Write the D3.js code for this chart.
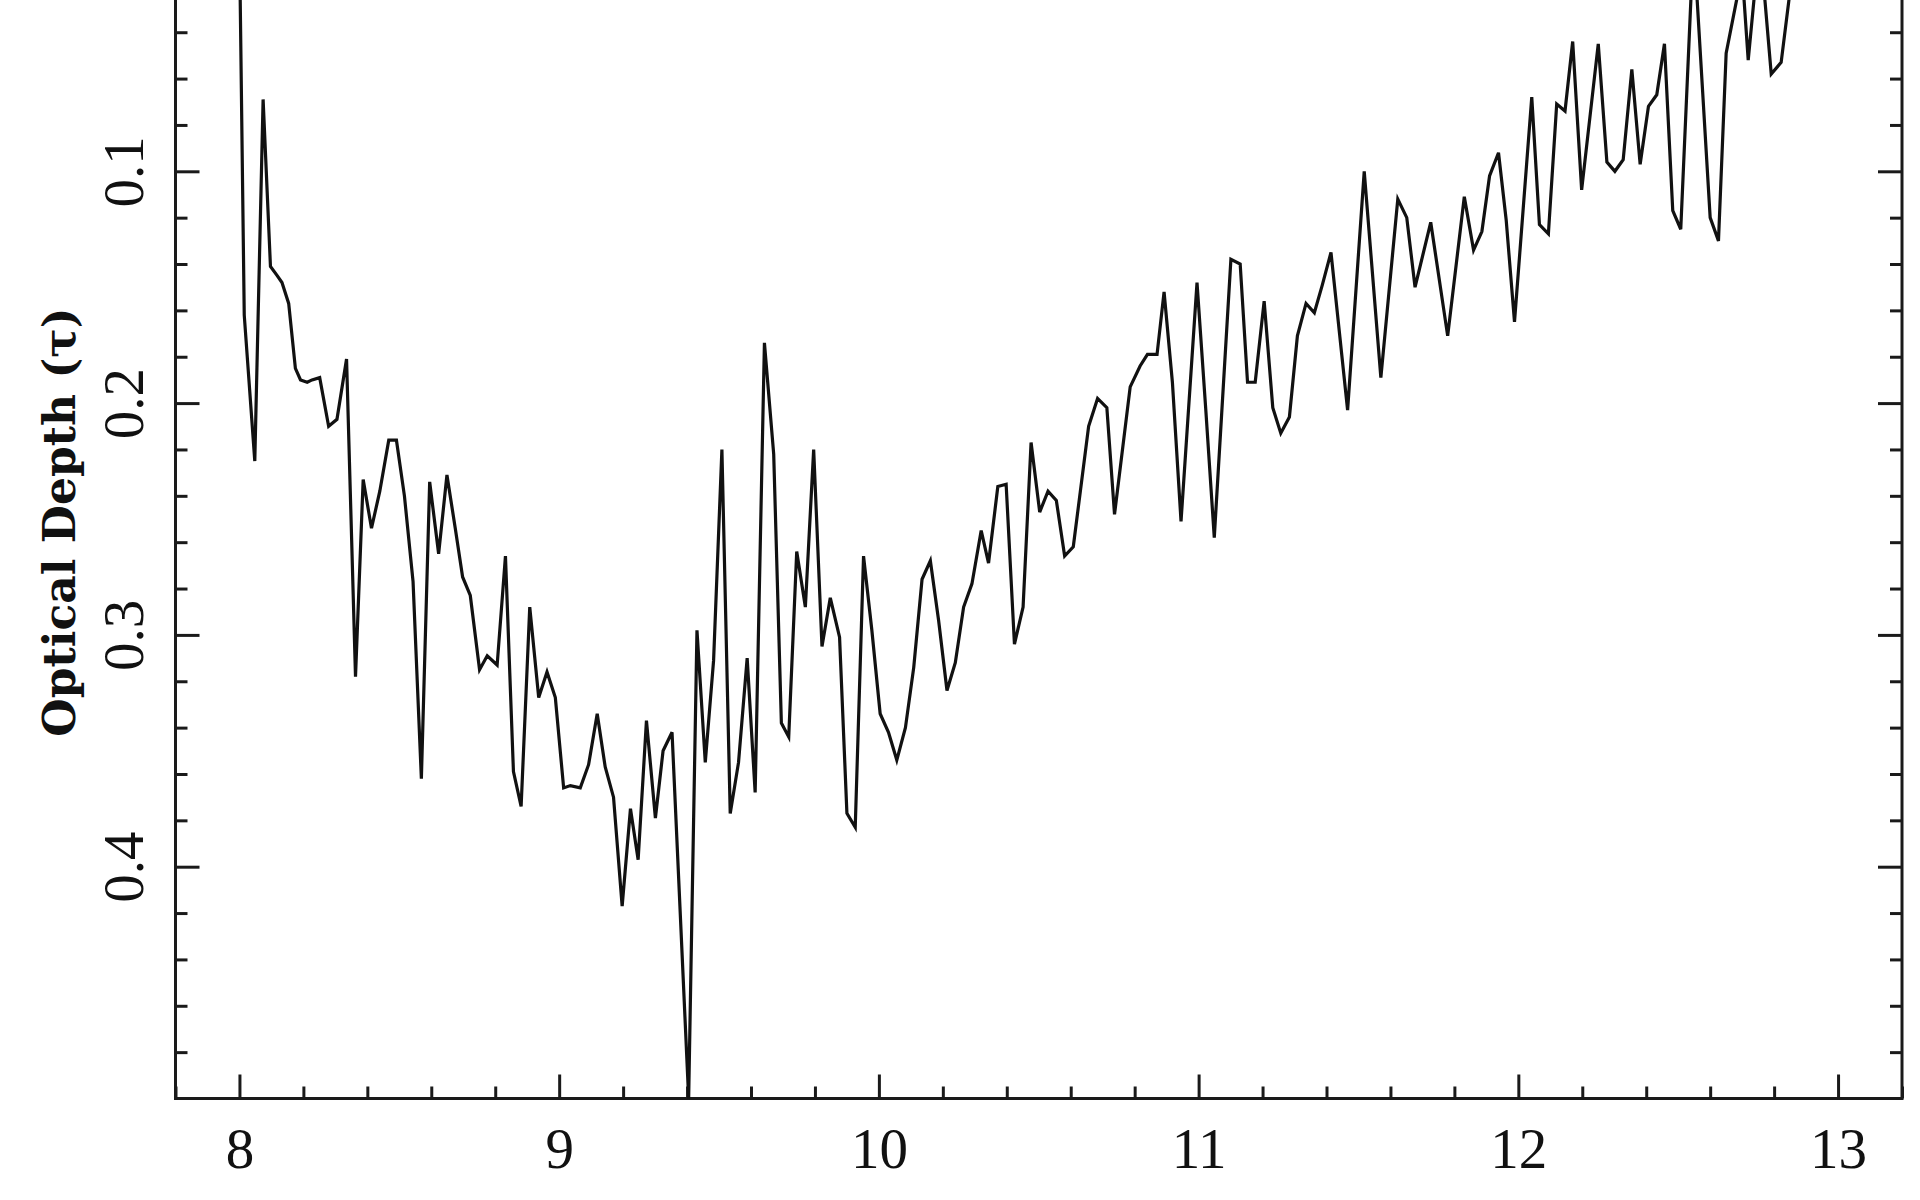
<!DOCTYPE html>
<html>
<head>
<meta charset="utf-8">
<script src="https://cdn.jsdelivr.net/npm/d3@7"></script>
<style>
  body { margin: 0; background: #fff; }
  svg { display: block; }
  .tick text { font-family: "Liberation Serif", serif; font-size: 57px; fill: #111; }
  .tick line { stroke: #1a1a1a; stroke-width: 3; }
</style>
</head>
<body>
<script>
// wavelength (x) and optical depth (y)
const wavelength = [
  8.000, 8.015, 8.048, 8.074, 8.097, 8.118, 8.133, 8.154, 8.175, 8.191,
  8.212, 8.227, 8.251, 8.279, 8.305, 8.335, 8.363, 8.387, 8.413, 8.439,
  8.467, 8.491, 8.516, 8.543, 8.569, 8.595, 8.623, 8.649, 8.675, 8.698,
  8.722, 8.751, 8.775, 8.806, 8.832, 8.857, 8.881, 8.908, 8.936, 8.962,
  8.988, 9.014, 9.035, 9.066, 9.092, 9.119, 9.144, 9.170, 9.197, 9.223,
  9.247, 9.273, 9.301, 9.325, 9.353, 9.405, 9.431, 9.457, 9.483, 9.509,
  9.535, 9.561, 9.588, 9.613, 9.642, 9.671, 9.695, 9.718, 9.743, 9.770,
  9.796, 9.822, 9.848, 9.877, 9.900, 9.926, 9.952, 9.978, 10.004, 10.030,
  10.056, 10.083, 10.109, 10.135, 10.161, 10.187, 10.213, 10.239, 10.265, 10.291,
  10.320, 10.343, 10.372, 10.398, 10.424, 10.451, 10.476, 10.503, 10.529, 10.555,
  10.581, 10.608, 10.656, 10.684, 10.713, 10.737, 10.786, 10.817, 10.840, 10.870,
  10.892, 10.918, 10.945, 10.995, 11.023, 11.049, 11.101, 11.130, 11.153, 11.177,
  11.205, 11.232, 11.257, 11.284, 11.309, 11.336, 11.362, 11.387, 11.414, 11.466,
  11.518, 11.570, 11.623, 11.651, 11.677, 11.726, 11.779, 11.831, 11.860, 11.886,
  11.910, 11.938, 11.962, 11.988, 12.042, 12.066, 12.094, 12.120, 12.146, 12.170,
  12.198, 12.250, 12.277, 12.302, 12.328, 12.355, 12.381, 12.407, 12.433, 12.457,
  12.483, 12.508, 12.548, 12.600, 12.626, 12.650, 12.700, 12.719, 12.755, 12.791,
  12.822, 12.870
];
const depth = [
  0.000, 0.162, 0.225, 0.069, 0.141, 0.145, 0.148, 0.157, 0.185, 0.190,
  0.191, 0.190, 0.189, 0.210, 0.207, 0.181, 0.318, 0.233, 0.254, 0.238,
  0.216, 0.216, 0.240, 0.277, 0.362, 0.234, 0.265, 0.231, 0.254, 0.275,
  0.283, 0.315, 0.309, 0.313, 0.266, 0.359, 0.374, 0.288, 0.327, 0.316,
  0.327, 0.366, 0.365, 0.366, 0.356, 0.334, 0.357, 0.370, 0.417, 0.375,
  0.397, 0.337, 0.379, 0.350, 0.342, 0.500, 0.298, 0.355, 0.311, 0.220,
  0.377, 0.355, 0.310, 0.368, 0.174, 0.222, 0.338, 0.344, 0.264, 0.288,
  0.220, 0.305, 0.284, 0.301, 0.377, 0.383, 0.266, 0.298, 0.334, 0.342,
  0.354, 0.340, 0.314, 0.276, 0.268, 0.294, 0.324, 0.312, 0.288, 0.278,
  0.255, 0.269, 0.236, 0.235, 0.304, 0.288, 0.217, 0.247, 0.238, 0.242,
  0.266, 0.262, 0.210, 0.198, 0.202, 0.248, 0.193, 0.184, 0.179, 0.179,
  0.152, 0.191, 0.251, 0.148, 0.204, 0.258, 0.138, 0.140, 0.191, 0.191,
  0.156, 0.202, 0.213, 0.206, 0.171, 0.157, 0.161, 0.149, 0.135, 0.203,
  0.100, 0.189, 0.112, 0.120, 0.150, 0.122, 0.171, 0.111, 0.134, 0.126,
  0.102, 0.092, 0.121, 0.165, 0.068, 0.123, 0.127, 0.071, 0.074, 0.044,
  0.108, 0.045, 0.096, 0.100, 0.095, 0.056, 0.097, 0.072, 0.067, 0.045,
  0.117, 0.125, 0.000, 0.120, 0.130, 0.049, 0.014, 0.052, 0.000, 0.058,
  0.053, 0.000
];
const xMajorTicks = [8, 9, 10, 11, 12, 13];
const yMajorTicks = [0.1, 0.2, 0.3, 0.4];
const yTitle = "Optical Depth (\u03c4)";

const width = 1920, height = 1200;
const plotLeft = 175.5, plotRight = 1902, plotTop = -60.5, plotBottom = 1098.5;

const svg = d3.select("body").append("svg")
    .attr("width", width)
    .attr("height", height);

let xScale = d3.scaleLinear().domain([7.8, 13.2]).range([plotLeft, plotRight]);
// optical depth grows downward
let yScale = d3.scaleLinear().domain([0, 0.5]).range([plotTop, plotBottom]);

let xMinor = d3.range(7.8, 13.21, 0.2).filter(v => Math.abs(v - Math.round(v)) > 0.01);
let yMinor = d3.range(0, 0.501, 0.02).filter(v => Math.abs(v * 10 - Math.round(v * 10)) > 0.01);

// bottom axis, ticks pointing inward
svg.append("g")
  .attr("transform", `translate(0,${plotBottom})`)
  .call(d3.axisBottom(xScale).tickValues(xMinor).tickSizeInner(-12).tickSizeOuter(0).tickFormat(""))
  .call(g => g.select(".domain").remove());
svg.append("g")
  .attr("transform", `translate(0,${plotBottom})`)
  .call(d3.axisBottom(xScale).tickValues(xMajorTicks).tickSizeInner(-24).tickSizeOuter(0)
    .tickPadding(29).tickFormat(d3.format("d")))
  .call(g => g.select(".domain").remove());

// left axis with rotated labels
svg.append("g")
  .attr("transform", `translate(${plotLeft},0)`)
  .call(d3.axisLeft(yScale).tickValues(yMinor).tickSizeInner(-12).tickSizeOuter(0).tickFormat(""))
  .call(g => g.select(".domain").remove());
svg.append("g")
  .attr("transform", `translate(${plotLeft},0)`)
  .call(d3.axisLeft(yScale).tickValues(yMajorTicks).tickSizeInner(-24).tickSizeOuter(0).tickFormat(d3.format(".1f")))
  .call(g => g.select(".domain").remove())
  .call(g => g.selectAll("text")
    .attr("transform", "rotate(-90)")
    .attr("x", 0)
    .attr("y", -33)
    .attr("dy", 0)
    .attr("text-anchor", "middle"));

// right axis, ticks only
svg.append("g")
  .attr("transform", `translate(${plotRight},0)`)
  .call(d3.axisRight(yScale).tickValues(yMinor).tickSizeInner(-12).tickSizeOuter(0).tickFormat(""))
  .call(g => g.select(".domain").remove());
svg.append("g")
  .attr("transform", `translate(${plotRight},0)`)
  .call(d3.axisRight(yScale).tickValues(yMajorTicks).tickSizeInner(-24).tickSizeOuter(0).tickFormat(""))
  .call(g => g.select(".domain").remove());

// frame
svg.append("rect")
  .attr("x", plotLeft).attr("y", plotTop)
  .attr("width", plotRight - plotLeft).attr("height", plotBottom - plotTop)
  .attr("fill", "none")
  .attr("stroke", "#1a1a1a")
  .attr("stroke-width", 3);

svg.append("text")
  .attr("transform", `translate(75,522) rotate(-90)`)
  .attr("text-anchor", "middle")
  .style("font-family", "'DejaVu Serif', serif")
  .style("font-weight", "bold")
  .style("font-size", "44px")
  .style("fill", "#111")
  .text(yTitle);

let lineGen = d3.line()
    .x((d, i) => xScale(wavelength[i]))
    .y(d => yScale(d));

svg.append("path")
  .datum(depth)
  .attr("d", lineGen)
  .attr("fill", "none")
  .attr("stroke", "#111")
  .attr("stroke-width", 3.2)
  .attr("stroke-linejoin", "miter");
</script>
</body>
</html>
